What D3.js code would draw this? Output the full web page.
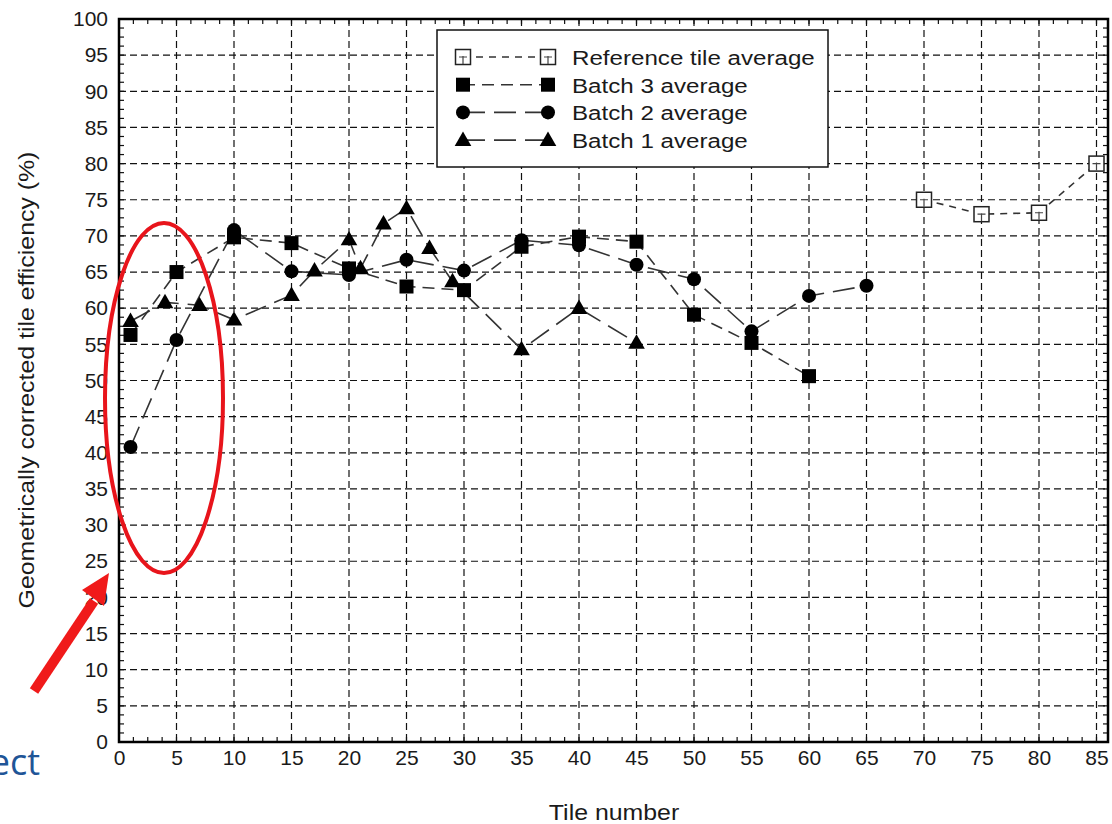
<!DOCTYPE html>
<html>
<head>
<meta charset="utf-8">
<script src="https://cdn.jsdelivr.net/npm/d3@7"></script>
<style>
  body { margin: 0; background: #fff; }
  svg { display: block; }
  text { font-family: "Liberation Sans", Arial, sans-serif; fill: #1a1a1a; }
</style>
</head>
<body>
<div id="chart"></div>
<script>
// values
var refX = [70, 75, 80, 85];
var refY = [75.0, 73.0, 73.2, 80.0];

var batch3X = [1, 5, 10, 15, 20, 25, 30, 35, 40, 45, 50, 55, 60];
var batch3Y = [56.3, 65.0, 69.8, 69.0, 65.5, 63.0, 62.5, 68.5, 69.9, 69.2, 59.1, 55.2, 50.6];

var batch2X = [1, 5, 10, 15, 20, 25, 30, 35, 40, 45, 50, 55, 60, 65];
var batch2Y = [40.8, 55.6, 70.8, 65.1, 64.6, 66.7, 65.2, 69.4, 68.7, 66.0, 64.0, 56.8, 61.7, 63.1];

var batch1X = [1, 4, 7, 10, 15, 17, 20, 21, 23, 25, 27, 29, 35, 40, 45];
var batch1Y = [58.2, 60.8, 60.4, 58.4, 61.8, 65.2, 69.5, 65.5, 71.7, 73.8, 68.3, 63.7, 54.3, 60.0, 55.2];

var xTicks = d3.range(0, 86, 5);
var yTicks = d3.range(0, 101, 5);
var legendNames = ["Reference tile average", "Batch 3 average", "Batch 2 average", "Batch 1 average"];

var W = 1112, H = 824;
var svg = d3.select("#chart").append("svg").attr("width", W).attr("height", H);

var x = d3.scaleLinear().domain([0, 86]).range([119, 1108]);
var y = d3.scaleLinear().domain([0, 100]).range([742, 19]);

// grid
var grid = svg.append("g").attr("stroke", "#111").attr("stroke-width", 1.2).attr("stroke-dasharray", "7,4");
grid.selectAll(".vg").data(xTicks.filter(d => d > 0)).enter().append("line")
  .attr("x1", d => x(d)).attr("x2", d => x(d)).attr("y1", y(100)).attr("y2", y(0));
grid.selectAll(".hg").data(yTicks.filter(d => d > 0 && d < 100)).enter().append("line")
  .attr("y1", d => y(d)).attr("y2", d => y(d)).attr("x1", x(0)).attr("x2", x(86));

// minor ticks, inside on all four sides
var minorX = d3.range(0, 86.01, 1.25);
var minorY = d3.range(0, 100.01, 1.25);
var tk = svg.append("g").attr("stroke", "#111").attr("stroke-width", 1.2);
minorX.forEach(function(v) {
  tk.append("line").attr("x1", x(v)).attr("x2", x(v)).attr("y1", y(0)).attr("y2", y(0) - 5);
  tk.append("line").attr("x1", x(v)).attr("x2", x(v)).attr("y1", y(100)).attr("y2", y(100) + 5);
});
minorY.forEach(function(v) {
  tk.append("line").attr("y1", y(v)).attr("y2", y(v)).attr("x1", x(0)).attr("x2", x(0) + 5);
  tk.append("line").attr("y1", y(v)).attr("y2", y(v)).attr("x1", x(86)).attr("x2", x(86) - 5);
});

// frame
svg.append("rect").attr("x", x(0)).attr("y", y(100))
  .attr("width", x(86) - x(0)).attr("height", y(0) - y(100))
  .attr("fill", "none").attr("stroke", "#000").attr("stroke-width", 2.5);

// axes labels (d3 axes, domain/ticks hidden, only text)
var xAxis = svg.append("g").attr("transform", "translate(0," + y(0) + ")")
  .call(d3.axisBottom(x).tickValues(xTicks).tickSize(0).tickPadding(8));
xAxis.select(".domain").remove();
xAxis.selectAll("text").style("font-size", "21px").style("font-family", "Liberation Sans, Arial, sans-serif").attr("fill", "#1a1a1a");

var yAxis = svg.append("g").attr("transform", "translate(" + x(0) + ",0)")
  .call(d3.axisLeft(y).tickValues(yTicks).tickSize(0).tickPadding(11));
yAxis.select(".domain").remove();
yAxis.selectAll("text").style("font-size", "21px").style("font-family", "Liberation Sans, Arial, sans-serif").attr("fill", "#1a1a1a");

svg.append("text").attr("transform", "translate(614,820) scale(1.13,1)").attr("text-anchor", "middle")
  .style("font-size", "22px").text("Tile number");
svg.append("text").attr("transform", "translate(34,380) rotate(-90) scale(1.13,1)").attr("text-anchor", "middle")
  .style("font-size", "22px").text("Geometrically corrected tile efficiency (%)");

// series
var series = [
  { name: legendNames[0], xs: refX, ys: refY, shape: "open", dash: "7,6" },
  { name: legendNames[1], xs: batch3X, ys: batch3Y, shape: "square", dash: "12,7" },
  { name: legendNames[2], xs: batch2X, ys: batch2Y, shape: "circle", dash: "22,9" },
  { name: legendNames[3], xs: batch1X, ys: batch1Y, shape: "triangle", dash: "22,9" }
];

var line = d3.line().x(d => x(d[0])).y(d => y(d[1]));

function marker(g, shape, cx, cy) {
  if (shape === "square") {
    g.append("rect").attr("x", cx - 7).attr("y", cy - 7).attr("width", 14).attr("height", 14).attr("fill", "#000");
  } else if (shape === "circle") {
    g.append("circle").attr("cx", cx).attr("cy", cy).attr("r", 7).attr("fill", "#000");
  } else if (shape === "triangle") {
    g.append("path").attr("d", d3.symbol(d3.symbolTriangle, 120)()).attr("transform", "translate(" + cx + "," + (cy + 1) + ")").attr("fill", "#000");
  } else {
    g.append("rect").attr("x", cx - 7.5).attr("y", cy - 7.5).attr("width", 15).attr("height", 15)
      .attr("fill", "#fff").attr("stroke", "#222").attr("stroke-width", 1.5);
    g.append("path").attr("d", "M" + cx + "," + (cy - 1) + "V" + (cy + 7) + "M" + (cx - 4) + "," + cy + "H" + (cx + 4))
      .attr("stroke", "#444").attr("stroke-width", 1.2);
  }
}

series.slice().reverse().forEach(function(s) {
  var pts = s.xs.map((v, i) => [v, s.ys[i]]);
  svg.append("path").datum(pts).attr("d", line).attr("fill", "none")
    .attr("stroke", "#333").attr("stroke-width", 1.6).attr("stroke-dasharray", s.dash);
});
series.slice().reverse().forEach(function(s) {
  var g = svg.append("g");
  s.xs.forEach(function(v, i) { marker(g, s.shape, x(v), y(s.ys[i])); });
});

// legend
var lg = svg.append("g");
lg.append("rect").attr("x", 437).attr("y", 30).attr("width", 391).attr("height", 137)
  .attr("fill", "#fff").attr("stroke", "#111").attr("stroke-width", 1.5);
series.forEach(function(s, i) {
  var ly = 57 + i * 27.7;
  lg.append("line").attr("x1", 463).attr("x2", 548).attr("y1", ly).attr("y2", ly)
    .attr("stroke", "#333").attr("stroke-width", 1.6).attr("stroke-dasharray", s.dash);
  marker(lg, s.shape, 463, ly);
  marker(lg, s.shape, 548, ly);
  lg.append("text").attr("transform", "translate(572," + (ly + 8) + ") scale(1.15,1)")
    .style("font-size", "21px").text(s.name);
});

// annotation overlay
svg.append("ellipse").attr("cx", 164).attr("cy", 398).attr("rx", 59).attr("ry", 175)
  .attr("fill", "none").attr("stroke", "#e8141b").attr("stroke-width", 4);
svg.append("line").attr("x1", 34).attr("y1", 691).attr("x2", 94).attr("y2", 601)
  .attr("stroke", "#f01a1a").attr("stroke-width", 10);
svg.append("path").attr("d", "M109,573 L82,590 L104,606 Z").attr("fill", "#f01a1a");
svg.append("text").attr("x", 40).attr("y", 775).attr("text-anchor", "end")
  .style("font-family", "'Open Sans', 'Noto Sans', sans-serif").style("font-size", "36px")
  .style("fill", "#1f5597").text("ect");
</script>
</body>
</html>
